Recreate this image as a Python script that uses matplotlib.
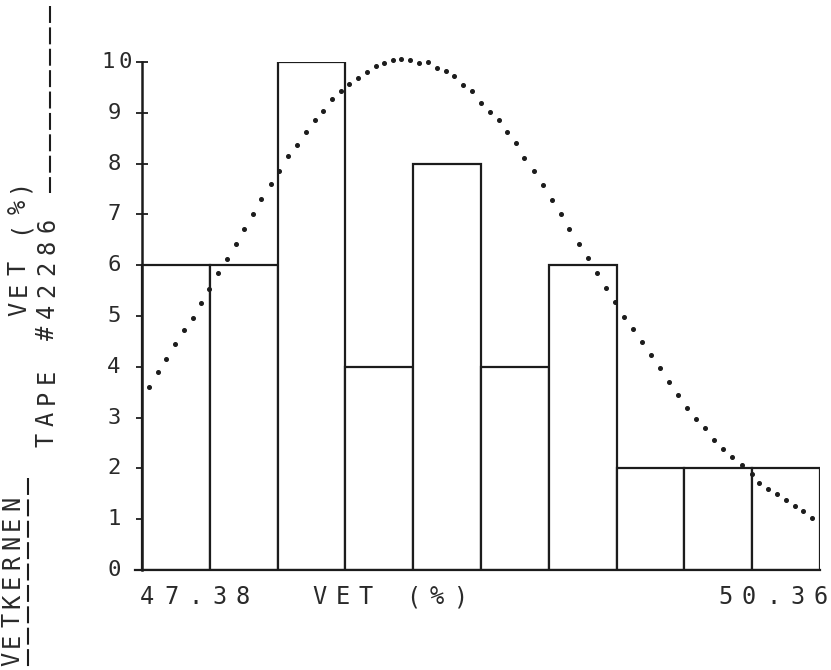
import numpy as np
import matplotlib
matplotlib.use('Agg')
import matplotlib.pyplot as plt
import matplotlib.transforms as mtransforms
from matplotlib.lines import Line2D

plt.rcParams.update({'font.family': 'DejaVu Sans Mono',
                     'lines.scale_dashes': False})

# histogram of VET (%) values, 10 classes between 47.38 and 50.36
x_min, x_max = 47.38, 50.36
counts = [6, 6, 10, 4, 8, 4, 6, 2, 2, 2]
yticks = list(range(0, 11))

# dotted fitted curve
curve_x = [47.411, 47.450, 47.485, 47.525, 47.565, 47.604, 47.639, 47.674, 47.714,
           47.754, 47.793, 47.828, 47.868, 47.903, 47.947, 47.982, 48.022, 48.061,
           48.101, 48.140, 48.176, 48.215, 48.255, 48.290, 48.329, 48.369, 48.408,
           48.444, 48.483, 48.518, 48.558, 48.597, 48.637, 48.676, 48.716, 48.751,
           48.791, 48.830, 48.870, 48.909, 48.949, 48.984, 49.024, 49.059, 49.103,
           49.142, 49.182, 49.222, 49.257, 49.301, 49.340, 49.380, 49.419, 49.459,
           49.498, 49.538, 49.577, 49.617, 49.657, 49.696, 49.736, 49.775, 49.815,
           49.854, 49.894, 49.933, 49.973, 50.017, 50.061, 50.092, 50.131, 50.171,
           50.210, 50.250, 50.285, 50.324]
curve_y = [3.60, 3.90, 4.15, 4.45, 4.72, 4.96, 5.26, 5.53, 5.85,
           6.12, 6.42, 6.71, 7.01, 7.30, 7.60, 7.85, 8.15, 8.37,
           8.62, 8.86, 9.04, 9.27, 9.43, 9.57, 9.69, 9.80, 9.92,
           9.98, 10.04, 10.06, 10.04, 9.98, 10.00, 9.88, 9.82, 9.72,
           9.55, 9.43, 9.19, 9.02, 8.86, 8.62, 8.41, 8.11, 7.85,
           7.58, 7.28, 7.01, 6.71, 6.42, 6.14, 5.85, 5.55, 5.28,
           4.98, 4.74, 4.49, 4.23, 3.98, 3.70, 3.44, 3.19, 2.97,
           2.80, 2.56, 2.38, 2.22, 2.07, 1.89, 1.71, 1.59, 1.50,
           1.38, 1.26, 1.16, 1.02]

W, H = 831, 670
fig = plt.figure(figsize=(W/100, H/100), dpi=100)
ax = fig.add_axes([135/W, 1 - 570/H, (820 - 135)/W, (570 - 62)/H])

ink = '#1c1c1c'
txt = '#2a2a2a'

edges = np.linspace(x_min, x_max, len(counts) + 1)
ax.bar(edges[:-1], counts, width=np.diff(edges), align='edge',
       facecolor='white', edgecolor=ink, linewidth=1.6, zorder=2)
ax.plot(curve_x, curve_y, ls='none', marker='o', ms=2.6, color=ink,
        clip_on=False, zorder=3)

ax.set_xlim(x_min - 7 * (x_max - x_min) / 678, x_max)
ax.set_ylim(0, 10)
ax.spines['left'].set_position(('data', x_min))
ax.spines['left'].set_linewidth(1.8)
ax.spines['bottom'].set_linewidth(1.6)
ax.spines['top'].set_visible(False)
ax.spines['right'].set_visible(False)
for s in ('left', 'bottom'):
    ax.spines[s].set_color(ink)
ax.set_xticks([])
ax.set_yticks(yticks[1:])
ax.set_yticklabels([])
ax.tick_params(axis='y', direction='inout', length=8, width=1.3, color=ink)


def fx(px):
    return px / W


def fy(py):
    return 1 - py / H


def plotter_text(x, y, s, trans, pitch, rot=0, size=17):
    # plotter style lettering: one glyph per fixed step
    for i, ch in enumerate(s):
        if ch == ' ':
            continue
        dx, dy = (i * pitch, 0) if rot == 0 else (0, i * pitch)
        t = mtransforms.offset_copy(trans, fig=fig, x=dx, y=dy, units='dots')
        fig.text(x, y, ch, transform=t, rotation=rot, ha='center',
                 va='center', fontsize=size, color=txt)


# y tick labels
ylab_tr = mtransforms.blended_transform_factory(fig.transFigure, ax.transData)
for v in yticks:
    x0 = 108 if v >= 10 else 114
    plotter_text(fx(x0), v, str(v), ylab_tr, pitch=17, size=16)

# x axis texts
plotter_text(fx(147), fy(597), '47.38', fig.transFigure, pitch=24)
plotter_text(fx(319), fy(597), 'VET (%)', fig.transFigure, pitch=23.5)
plotter_text(fx(725), fy(597), '50.36', fig.transFigure, pitch=24)

# rotated captions on the left
plotter_text(fx(12), fy(659), 'VETKERNEN', fig.transFigure, pitch=19.5, rot=90)
plotter_text(fx(19), fy(309), 'VET (%)', fig.transFigure, pitch=20.5, rot=90)
plotter_text(fx(47), fy(440), 'TAPE #42286', fig.transFigure, pitch=21.5, rot=90)

dash = (0, (12.2, 3.2))
fig.add_artist(Line2D([fx(50), fx(50)], [fy(6), fy(193)], transform=fig.transFigure,
                      color=ink, lw=1.5, ls=dash))
fig.add_artist(Line2D([fx(28), fx(28)], [fy(478), fy(672)], transform=fig.transFigure,
                      color=ink, lw=1.5, ls=dash))

fig.savefig('out.png', dpi=100, facecolor='white')
